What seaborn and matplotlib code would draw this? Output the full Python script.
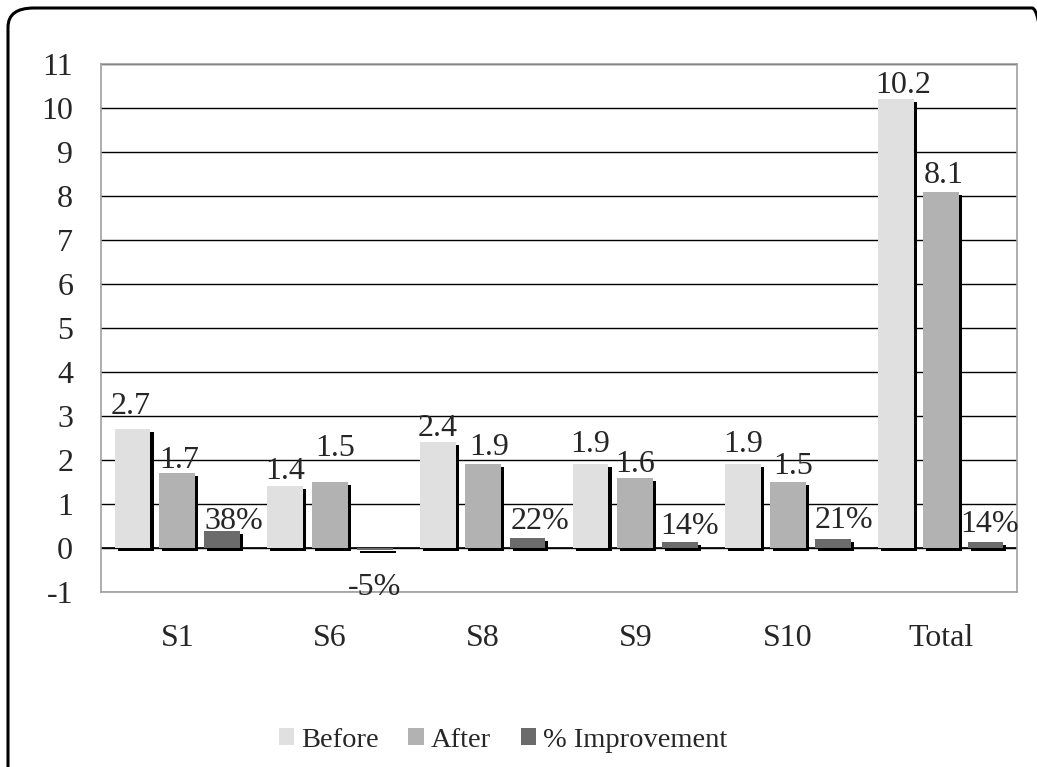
import matplotlib.pyplot as plt
import matplotlib.patheffects as pe
from matplotlib.patches import FancyBboxPatch, Patch
import seaborn as sns
import pandas as pd

# values
categories = ['S1', 'S6', 'S8', 'S9', 'S10', 'Total']
before = [2.7, 1.4, 2.4, 1.9, 1.9, 10.2]
after = [1.7, 1.5, 1.9, 1.6, 1.5, 8.1]
improvement = [38, -5, 22, 14, 21, 14]  # percent
series = ['Before', 'After', '% Improvement']
colors = ['#E0E0E0', '#B2B2B2', '#6B6B6B']

# label placement nudges (pixels) like the original Excel chart
label_dx = [[-2, 0, 0, 0, 0, 7],
            [2, 5, 7, 0, 5, 3],
            [12, 0, 13, 9, 11, 4]]
label_dy = [[15, 7, 6, 12, 12, 6],
            [5, 26, 9, 6, 8, 9],
            [2, -23, 9, 8, 11, 10]]

df = pd.DataFrame({
    'cat': categories * 3,
    'series': ['Before'] * 6 + ['After'] * 6 + ['% Improvement'] * 6,
    'value': before + after + [v / 100 for v in improvement],
})

sns.set_style('white')
plt.rcParams['font.family'] = ['Liberation Serif', 'DejaVu Serif']
plt.rcParams['axes.unicode_minus'] = False

fig = plt.figure(figsize=(10.37, 7.67), dpi=100)
ax = fig.add_axes([0.0974, 0.2282, 0.8833, 0.6884])

sns.barplot(data=df, x='cat', y='value', hue='series', hue_order=series,
            palette=colors, width=0.88, gap=0.2, ax=ax, legend=False,
            saturation=1, errorbar=None)

shadow = [pe.SimplePatchShadow(offset=(2.2, -2.2), shadow_rgbFace='black', alpha=1.0), pe.Normal()]
for p in ax.patches:
    p.set_path_effects(shadow)
    p.set_edgecolor('none')

# data labels
px = 0.72  # points per pixel at 100 dpi
for i, cont in enumerate(ax.containers):
    for j, b in enumerate(cont):
        h = b.get_height()
        txt = f'{round(h * 100)}%' if i == 2 else f'{h:.1f}'
        xc = b.get_x() + b.get_width() / 2
        ax.annotate(txt, (xc, max(h, 0) if h >= 0 else h),
                    xytext=(label_dx[i][j] * px, label_dy[i][j] * px),
                    textcoords='offset points', ha='center',
                    va='baseline' if h >= 0 else 'top', fontsize=23,
                    annotation_clip=False)

ax.set_ylim(-1, 11)
ax.set_yticks(range(-1, 12))
ax.yaxis.grid(True, color='black', linewidth=1.0)
ax.set_axisbelow(True)
ax.axhline(0, color='black', linewidth=1.2, zorder=0.5)
for s in ax.spines.values():
    s.set_color('#A0A0A0')
    s.set_linewidth(1.2)
ax.tick_params(axis='both', length=0, labelsize=23)
ax.tick_params(axis='y', pad=20)
ax.tick_params(axis='x', pad=23)
ax.set_xlabel('')
ax.set_ylabel('')

handles = [Patch(facecolor=c, edgecolor='none') for c in colors]
fig.legend(handles, series, loc='center', bbox_to_anchor=(0.485, 0.035), ncol=3,
           frameon=False, fontsize=20.5, handlelength=0.53, handleheight=0.53,
           handletextpad=0.25, columnspacing=1.05)

# rounded chart border
border = FancyBboxPatch((8 / 1037, -20 / 767), 1050 / 1037, 779 / 767,
                        boxstyle='round,pad=0,rounding_size=0.025',
                        transform=fig.transFigure, fill=False,
                        edgecolor='black', linewidth=2.2, clip_on=False)
fig.patches.append(border)

fig.savefig('out.png', dpi=100)
